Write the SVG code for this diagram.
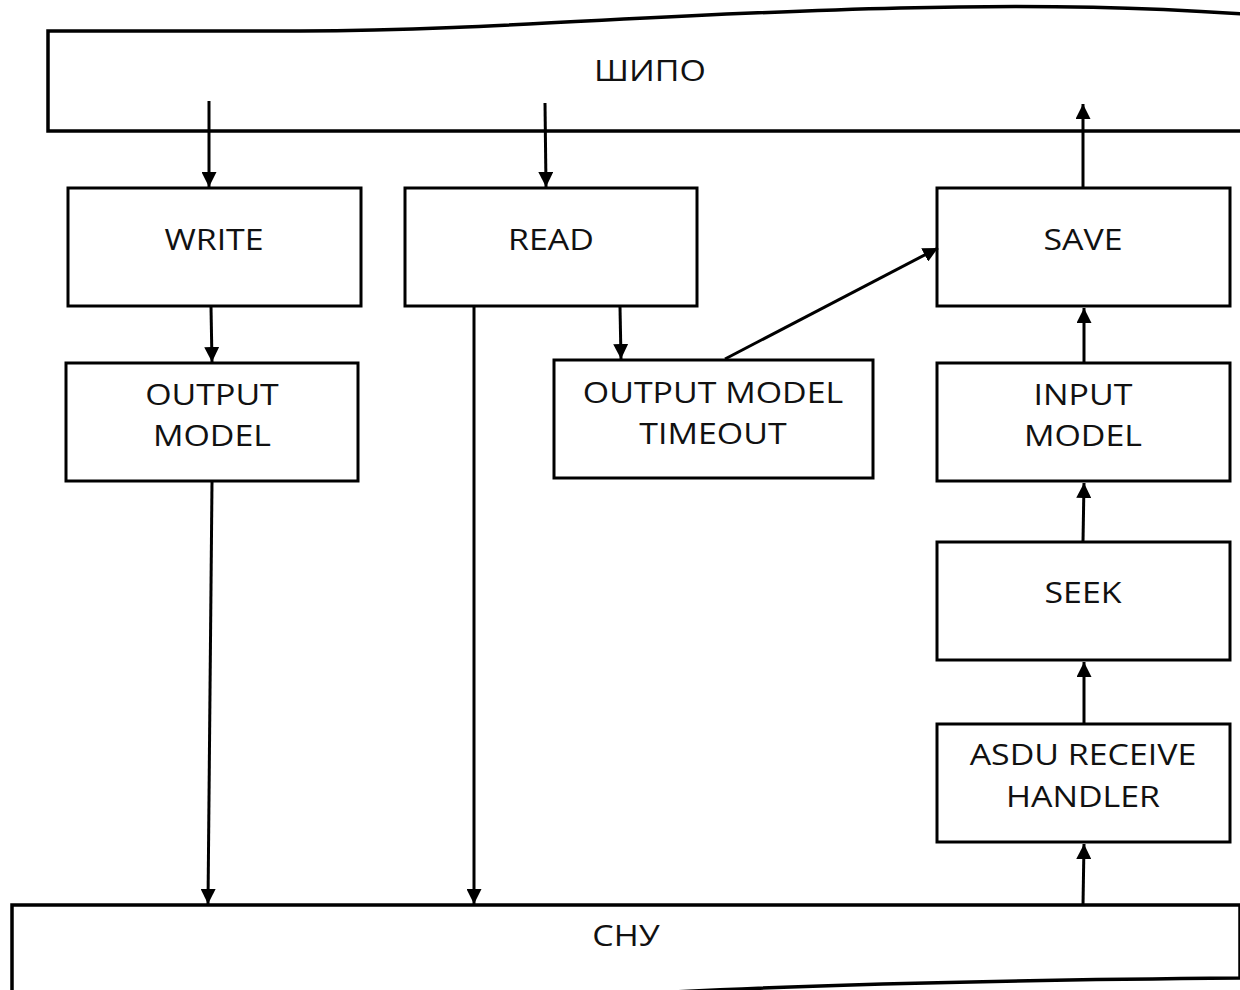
<svg xmlns="http://www.w3.org/2000/svg" width="1240" height="990" viewBox="0 0 1240 990">
<defs>
<marker id="ah" viewBox="0 0 10 10" refX="10" refY="5" markerWidth="5" markerHeight="5" orient="auto" markerUnits="strokeWidth">
<path d="M0,0 L10,5 L0,10 z" fill="#000"/>
</marker>
</defs>
<style>
.box{fill:#fff;stroke:#000;stroke-width:3}
.band{fill:#fff;stroke:#000;stroke-width:3.5}
.t{font-family:"Open Sans","DejaVu Sans",sans-serif;font-size:29px;font-weight:500;fill:#111;text-anchor:middle}
.c{stroke:#000;stroke-width:3;fill:none;marker-end:url(#ah)}
</style>
<rect width="1240" height="990" fill="#fff"/>
<g id="shipo">
<path class="band" d="M1245,14 C1150,8 1050,4 900,8 C650,14 500,30 300,31 L48,31 L48,131 L1245,131"/>
<text class="t" transform="translate(650,81) scale(1.17,1)">ШИПО</text>
</g>
<g id="snu">
<path class="band" d="M1245,978 L1240,978 C1000,980 800,984 620,995 L12,995 L12,905 L1240,905 L1240,978"/>
<text class="t" transform="translate(626,946) scale(1.17,1)">СНУ</text>
</g>
<g id="write"><rect class="box" x="68" y="188" width="293" height="118"/><text class="t" transform="translate(214,250) scale(1.17,1)">WRITE</text></g>
<g id="read"><rect class="box" x="405" y="188" width="292" height="118"/><text class="t" transform="translate(551,250) scale(1.17,1)">READ</text></g>
<g id="save"><rect class="box" x="937" y="188" width="293" height="118"/><text class="t" transform="translate(1083,250) scale(1.17,1)">SAVE</text></g>
<g id="output-model"><rect class="box" x="66" y="363" width="292" height="118"/><text class="t" transform="translate(212,405) scale(1.17,1)">OUTPUT</text><text class="t" transform="translate(212,446) scale(1.17,1)">MODEL</text></g>
<g id="output-model-timeout"><rect class="box" x="554" y="360" width="319" height="118"/><text class="t" transform="translate(713,403) scale(1.17,1)">OUTPUT MODEL</text><text class="t" transform="translate(713,444) scale(1.17,1)">TIMEOUT</text></g>
<g id="input-model"><rect class="box" x="937" y="363" width="293" height="118"/><text class="t" transform="translate(1083,405) scale(1.17,1)">INPUT</text><text class="t" transform="translate(1083,446) scale(1.17,1)">MODEL</text></g>
<g id="seek"><rect class="box" x="937" y="542" width="293" height="118"/><text class="t" transform="translate(1083,603) scale(1.17,1)">SEEK</text></g>
<g id="asdu"><rect class="box" x="937" y="724" width="293" height="118"/><text class="t" transform="translate(1083,765) scale(1.17,1)">ASDU RECEIVE</text><text class="t" transform="translate(1083,807) scale(1.17,1)">HANDLER</text></g>
<g id="connectors">
<line class="c" x1="209" y1="101" x2="209" y2="187"/>
<line class="c" x1="545" y1="103" x2="546" y2="187"/>
<line class="c" x1="1083" y1="188" x2="1083" y2="104"/>
<line class="c" x1="211" y1="307" x2="212" y2="362"/>
<line class="c" x1="620" y1="307" x2="621" y2="359"/>
<line class="c" x1="474" y1="307" x2="474" y2="904"/>
<line class="c" x1="212" y1="482" x2="208" y2="904"/>
<line class="c" x1="725" y1="359" x2="938" y2="248"/>
<line class="c" x1="1084" y1="363" x2="1084" y2="308"/>
<line class="c" x1="1083" y1="542" x2="1084" y2="483"/>
<line class="c" x1="1084" y1="724" x2="1084" y2="662"/>
<line class="c" x1="1083" y1="905" x2="1084" y2="844"/>
</g>
</svg>
